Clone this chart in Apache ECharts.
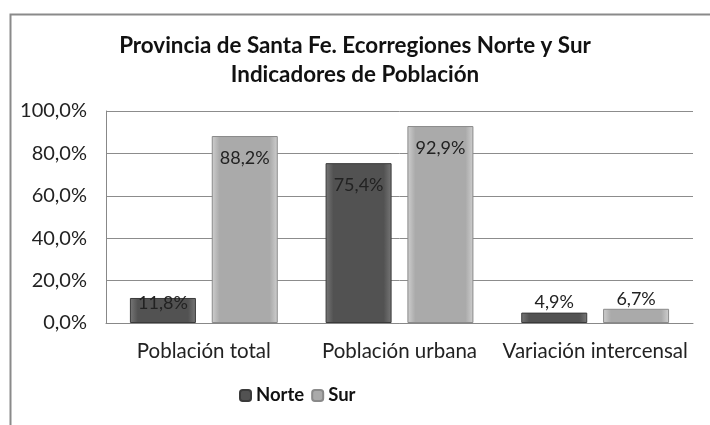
<!DOCTYPE html>
<html><head><meta charset="utf-8">
<script src="https://cdn.jsdelivr.net/npm/echarts@6/dist/echarts.min.js"></script>
<style>html,body{margin:0;padding:0;background:#fff}#c{width:710px;height:425px}</style>
</head><body><div id="c"></div>
<script>
var categories = ['Población total', 'Población urbana', 'Variación intercensal'];
var norte = [11.8, 75.4, 4.9];
var sur = [88.2, 92.9, 6.7];
var seriesNames = ['Norte', 'Sur'];

var FONT = 'Lato, "Open Sans", sans-serif';
function fmt(v){ return v.toFixed(1).replace('.', ',') + '%'; }
function grad(edge, mid){
  return new echarts.graphic.LinearGradient(0,0,1,0,[
    {offset:0,color:edge},{offset:0.12,color:mid},{offset:0.88,color:mid},{offset:1,color:edge}]);
}
function labelFor(v){
  if (v < 8) return {position:'top', distance:1};
  if (v < 20) return {position:'insideTop', distance:-4};
  return {position:'insideTop', distance:13};
}
function mk(arr){ return arr.map(function(v){ return {value:v, label:labelFor(v)}; }); }

var chart = echarts.init(document.getElementById('c'), null, {renderer:'canvas'});
chart.setOption({
  animation:false,
  backgroundColor:'#fff',
  textStyle:{fontFamily:FONT},
  title:{
    text:'Provincia de Santa Fe. Ecorregiones Norte y Sur\nIndicadores de Población',
    left:'center', top:26,
    textStyle:{fontFamily:FONT, fontSize:22.4, fontWeight:'bold', color:'#111', lineHeight:29}
  },
  graphic:[{type:'rect', left:8, top:12, shape:{width:800, height:500}, style:{fill:'none', stroke:'#8a8a8a', lineWidth:2}, z:-1}],
  legend:{
    data:seriesNames, bottom:15, left:234, itemWidth:11, itemHeight:11, itemGap:7,
    textStyle:{fontFamily:FONT, fontSize:18.5, fontWeight:'bold', color:'#111'}
  },
  grid:{left:106, right:17, top:111, bottom:102, show:false},
  xAxis:{
    type:'category', data:categories,
    axisLine:{lineStyle:{color:'#888'}}, axisTick:{show:false},
    axisLabel:{fontFamily:FONT, fontSize:20.5, color:'#222', margin:18, interval:0}
  },
  yAxis:{
    type:'value', min:0, max:100, interval:20,
    axisLine:{show:true, lineStyle:{color:'#888'}}, axisTick:{show:false},
    splitLine:{lineStyle:{color:'#8c8c8c'}},
    axisLabel:{fontFamily:FONT, fontSize:20, color:'#222', margin:19, formatter:function(v){return fmt(v);}}
  },
  series:[
    {name:'Norte', type:'bar', data:mk(norte), barWidth:66, barGap:'24%',
     itemStyle:{color:grad('#777777','#525252'), borderColor:'#3a3a3a', borderWidth:1},
     label:{show:true, fontFamily:FONT, fontSize:18, color:'#222', formatter:function(p){return fmt(p.value);}}},
    {name:'Sur', type:'bar', data:mk(sur), barWidth:66,
     itemStyle:{color:grad('#cfcfcf','#aaaaaa'), borderColor:'#8a8a8a', borderWidth:1},
     label:{show:true, fontFamily:FONT, fontSize:18, color:'#222', formatter:function(p){return fmt(p.value);}}}
  ]
});
</script></body></html>
